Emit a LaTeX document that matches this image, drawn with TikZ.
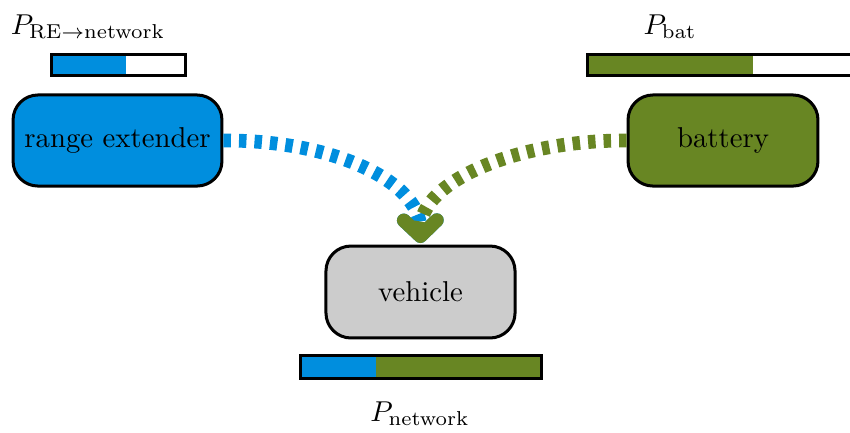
\documentclass[tikz,border=0pt]{standalone}
\usetikzlibrary{arrows.meta}
\definecolor{reblue}{RGB}{0,142,222}
\definecolor{batgreen}{RGB}{104,134,35}
\definecolor{vehgray}{RGB}{204,204,204}
\begin{document}
\begin{tikzpicture}[x=0.348pt,y=-0.348pt,
  box/.style={draw=black,line width=1.05pt,rounded corners=8.7pt,minimum width=72.7pt,minimum height=31.7pt,inner sep=0pt},
  barframe/.style={draw=black,line width=1.25pt},
  flow/.style={line width=4.8pt,dash pattern=on 2.6pt off 2.8pt},
  tipv/.style={-{Straight Barb[round,length=5.5pt,width=11.5pt]}},
  lbl/.style={inner sep=0pt}]
\useasboundingbox (0,0) rectangle (850,432);
% nodes
\node[box,fill=reblue] (re) at (117.5,140.5) {range extender};
\node[box,fill=batgreen,minimum width=66.1pt] (bat) at (723,140.5) {battery};
\node[box,fill=vehgray,minimum width=65.8pt,minimum height=32pt] (veh) at (420.5,292) {vehicle};
% labels
\node[lbl] (lre) at (88,27) {$P_{\mathrm{RE}\rightarrow\mathrm{network}}$};
\node[lbl] (lbat) at (670,27) {$P_{\mathrm{bat}}$};
\node[lbl] (lnet) at (420,414) {$P_{\mathrm{network}}$};
% bars
\fill[reblue] (51.5,54.5) rectangle (126,75.5);
\draw[barframe] (51.5,54.5) rectangle (185.5,75.5);
\fill[batgreen] (587.5,54.5) rectangle (753,75.5);
\draw[barframe] (587.5,54.5) rectangle (860,75.5);
\fill[reblue] (300.5,355.5) rectangle (376,378.5);
\fill[batgreen] (376,355.5) rectangle (541.5,378.5);
\draw[barframe] (300.5,355.5) rectangle (541.5,378.5);
% connectors
\coordinate (tip) at (420.5,243);
\draw[flow,reblue,tipv] (re.east) .. controls (330,140) and (420,180) .. (tip);
\draw[flow,batgreen,tipv] (bat.west) .. controls (520,140) and (420,180) .. (tip);
\end{tikzpicture}
\end{document}
